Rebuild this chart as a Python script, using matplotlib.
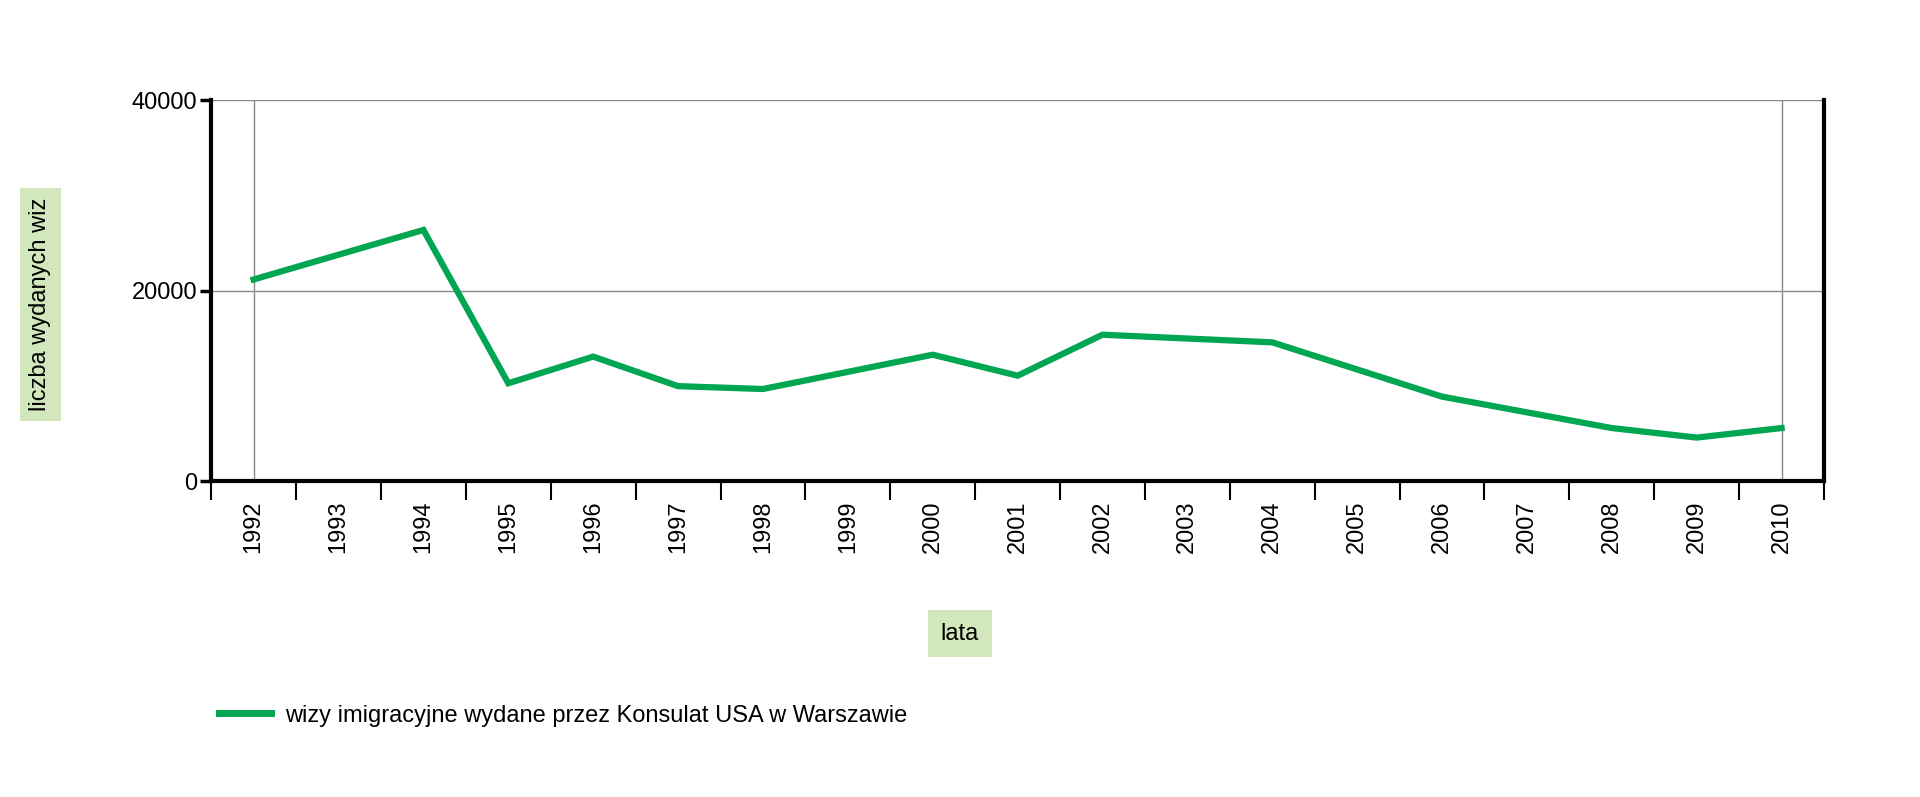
import matplotlib
matplotlib.use("Agg")
import matplotlib.pyplot as plt
from matplotlib.lines import Line2D

plt.rcParams["font.family"] = "Liberation Sans"

years = list(range(1992, 2011))
data_years = [1992, 1994, 1995, 1996, 1997, 1998, 2000, 2001, 2002, 2004, 2006, 2008, 2009, 2010]
visas = [21200, 26400, 10300, 13100, 10000, 9700, 13300, 11100, 15400, 14600, 8900, 5600, 4600, 5600]
yticks = [0, 20000, 40000]
series_name = "wizy imigracyjne wydane przez Konsulat USA w Warszawie"
green = "#00a651"
boxc = "#d2e7bb"

fig = plt.figure(figsize=(19.2, 7.97), dpi=100)
ax = fig.add_axes([0.110, 0.396, 0.840, 0.478])
x0 = years[0] - 0.5
ax.set_xlim(x0, years[-1] + 0.5)
ax.set_ylim(0, 40000)
ax.plot(data_years, visas, color=green, lw=4.5, solid_joinstyle="miter", zorder=3)

for y in yticks[1:]:
    ax.axhline(y, color="#888888", lw=1, zorder=1)
for xv in (years[0], years[-1]):
    ax.axvline(xv, color="#888888", lw=1, zorder=1)

ax.set_yticks(yticks)
ax.set_yticklabels([str(v) for v in yticks], fontsize=17)
ax.set_xticks([x0 + i for i in range(len(years) + 1)])
ax.set_xticklabels([])
ax.set_xticks(years, minor=True)
ax.set_xticklabels([str(y) for y in years], minor=True, rotation=90, fontsize=17)
ax.tick_params(axis="x", which="major", length=14, width=1.5, direction="out")
ax.tick_params(axis="x", which="minor", length=0, pad=14)
ax.tick_params(axis="y", length=8, width=2.5, pad=2)
ax.spines["top"].set_visible(False)
for s in ("left", "right", "bottom"):
    ax.spines[s].set_linewidth(3)

fig.text(0.021, 0.618, "liczba wydanych wiz", rotation=90, ha="center", va="center", fontsize=17,
         bbox=dict(facecolor=boxc, edgecolor="none", pad=7))
fig.text(0.5, 0.205, "lata", ha="center", va="center", fontsize=17,
         bbox=dict(facecolor=boxc, edgecolor="none", pad=9))

fig.legend([Line2D([], [], color=green, lw=5)], [series_name], loc="center left",
           bbox_to_anchor=(0.103, 0.102), frameon=False, fontsize=17, handlelength=2.2, handletextpad=0.6)

fig.savefig("out.png", dpi=100)
